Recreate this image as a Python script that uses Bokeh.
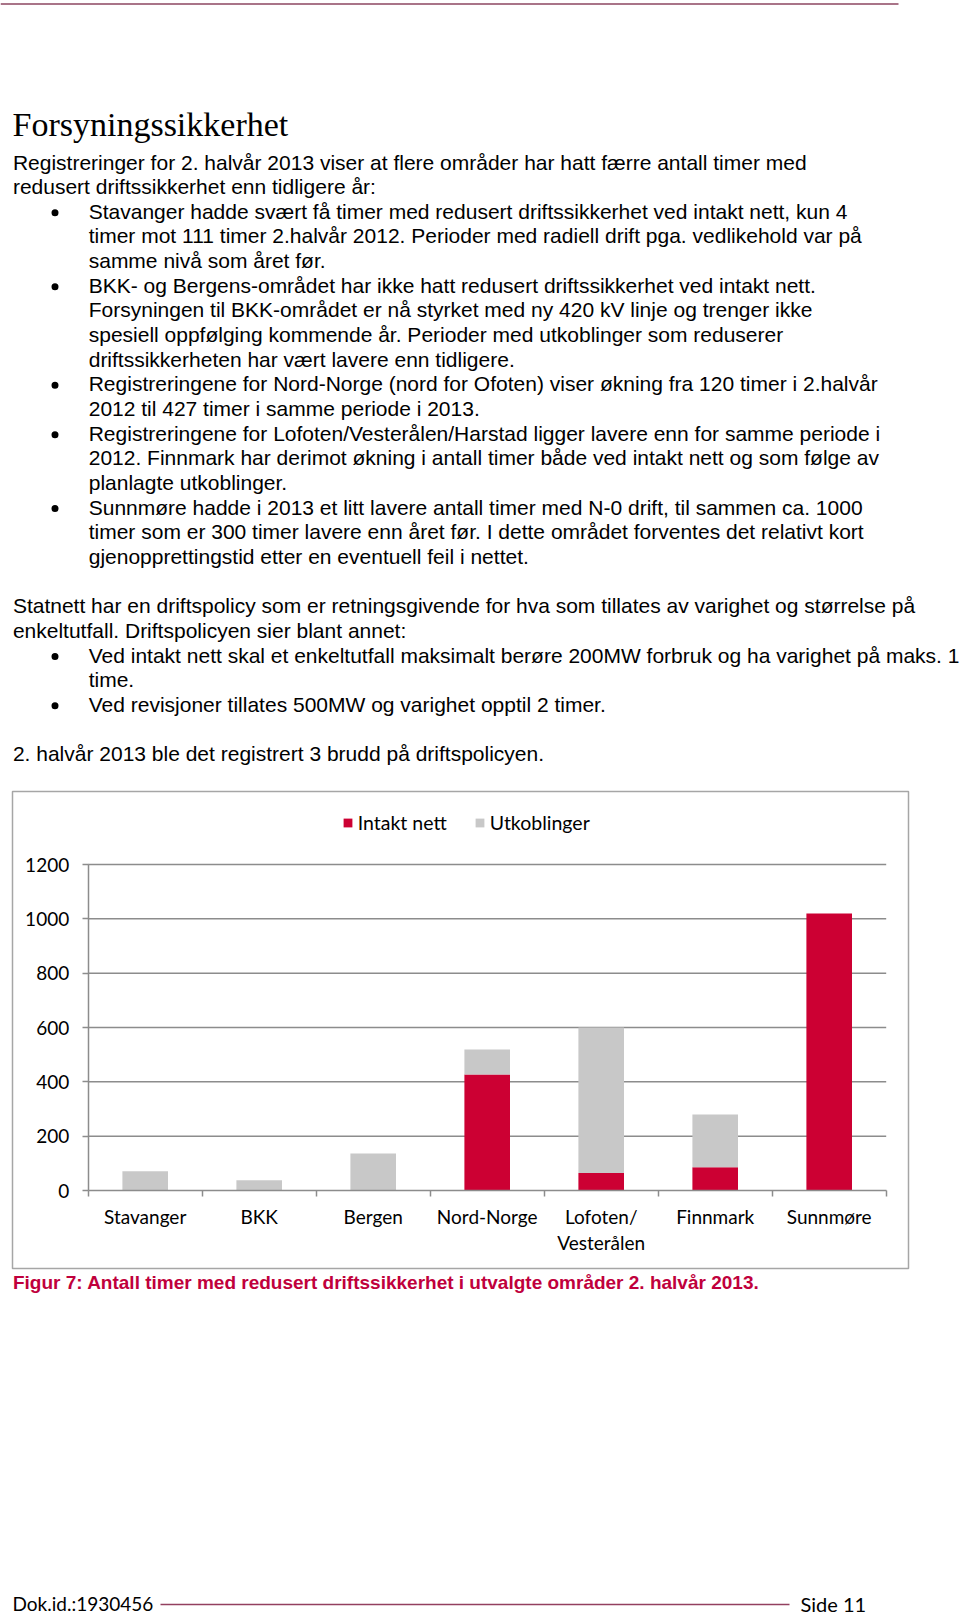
from bokeh.plotting import figure
from bokeh.layouts import column
from bokeh.models import (ColumnDataSource, Range1d, LinearAxis, FixedTicker,
                          Legend, LegendItem)
from bokeh.core.properties import value
from bokeh.embed import file_html
from bokeh.resources import INLINE

# ---------------- data ----------------
CATEGORIES = ["Stavanger", "BKK", "Bergen", "Nord-Norge", "Lofoten/\nVesterålen",
              "Finnmark", "Sunnmøre"]
INTAKT_NETT = [0, 0, 0, 427, 64, 86, 1020]
UTKOBLINGER = [71, 38, 136, 92, 536, 194, 0]
SERIES = ["Intakt nett", "Utkoblinger"]
Y_TICKS = [0, 200, 400, 600, 800, 1000, 1200]

TITLE = "Forsyningssikkerhet"
BODY = [
    ("p", "Registreringer for 2. halvår 2013 viser at flere områder har hatt færre antall timer med"),
    ("p", "redusert driftssikkerhet enn tidligere år:"),
    ("b", "Stavanger hadde svært få timer med redusert driftssikkerhet ved intakt nett, kun 4"),
    ("c", "timer mot 111 timer 2.halvår 2012. Perioder med radiell drift pga. vedlikehold var på"),
    ("c", "samme nivå som året før."),
    ("b", "BKK- og Bergens-området har ikke hatt redusert driftssikkerhet ved intakt nett."),
    ("c", "Forsyningen til BKK-området er nå styrket med ny 420 kV linje og trenger ikke"),
    ("c", "spesiell oppfølging kommende år. Perioder med utkoblinger som reduserer"),
    ("c", "driftssikkerheten har vært lavere enn tidligere."),
    ("b", "Registreringene for Nord-Norge (nord for Ofoten) viser økning fra 120 timer i 2.halvår"),
    ("c", "2012 til 427 timer i samme periode i 2013."),
    ("b", "Registreringene for Lofoten/Vesterålen/Harstad ligger lavere enn for samme periode i"),
    ("c", "2012. Finnmark har derimot økning i antall timer både ved intakt nett og som følge av"),
    ("c", "planlagte utkoblinger."),
    ("b", "Sunnmøre hadde i 2013 et litt lavere antall timer med N-0 drift, til sammen ca. 1000"),
    ("c", "timer som er 300 timer lavere enn året før. I dette området forventes det relativt kort"),
    ("c", "gjenopprettingstid etter en eventuell feil i nettet."),
    (None, ""),
    ("p", "Statnett har en driftspolicy som er retningsgivende for hva som tillates av varighet og størrelse på"),
    ("p", "enkeltutfall. Driftspolicyen sier blant annet:"),
    ("b", "Ved intakt nett skal et enkeltutfall maksimalt berøre 200MW forbruk og ha varighet på maks. 1"),
    ("c", "time."),
    ("b", "Ved revisjoner tillates 500MW og varighet opptil 2 timer."),
    (None, ""),
    ("p", "2. halvår 2013 ble det registrert 3 brudd på driftspolicyen."),
]
CAPTION = "Figur 7: Antall timer med redusert driftssikkerhet i utvalgte områder 2. halvår 2013."
FOOT_LEFT = "Dok.id.:1930456"
FOOT_RIGHT = "Side 11"

# ---------------- styles ----------------
RED = "#cc0033"
GRAY = "#c8c8c8"
AXIS_GRAY = "#8c8c8c"
BOX_GRAY = "#a6a6a6"
MAUVE = "#a97488"
CAPTION_RED = "#c0003c"
CHART_FONT = "Lato"
BODY_FONT = "Liberation Sans"

# page layout (the Bokeh page has no body margin: figures start at 0,0)
PAGE_W = 960
TOP_H, CHART_H, BOT_H = 784, 488, 344
TOP_Y0 = 0
CHART_Y0 = TOP_Y0 + TOP_H
BOT_Y0 = CHART_Y0 + CHART_H


def page_fig(y0, h):
    return figure(width=PAGE_W, height=h, x_range=Range1d(0, PAGE_W),
                  y_range=Range1d(y0 + h, y0), x_axis_type=None, y_axis_type=None,
                  toolbar_location=None, output_backend="svg", min_border=0,
                  outline_line_color=None, background_fill_color="white",
                  border_fill_color="white", frame_align=False)


# ---------------- top text block ----------------
top = page_fig(TOP_Y0, TOP_H)
top.segment(x0=[0], x1=[898], y0=[3.5], y1=[3.5], line_color=MAUVE, line_width=2)
top.text(x=[12], y=[123.5], text=[TITLE], text_font=value("Liberation Serif"),
         text_font_size="34px", text_color="black", text_baseline="middle")

BODY_X, INDENT_X, BULLET_X = 12.4, 88.2, 54.5
LINE0, STEP = 161.5, 24.65
tx, ty, tt, bx, by = [], [], [], [], []
for i, (kind, txt) in enumerate(BODY):
    if kind is None:
        continue
    cy = LINE0 + STEP * i
    tx.append(BODY_X if kind == "p" else INDENT_X)
    ty.append(cy)
    tt.append(txt)
    if kind == "b":
        bx.append(BULLET_X)
        by.append(cy + 1.5)
top.text(x=tx, y=ty, text=tt, text_font=value(BODY_FONT), text_font_size="21px",
         text_color="black", text_baseline="middle")
top.scatter(x=bx, y=by, size=7, marker="circle", fill_color="black", line_color=None)

# ---------------- chart ----------------
FRAME_L, FRAME_R = 12, 908          # page px
FRAME_T, FRAME_B = CHART_Y0 + 7, CHART_Y0 + CHART_H - 4
ORIG_X, ORIG_Y = 87.7, 1190.0       # page px of axes origin
CAT_STEP = 114.0                    # px per category
PX_PER_UNIT = (1190.0 - 864.0) / 1200.0

ncat = len(CATEGORIES)
xs = -(ORIG_X - FRAME_L) / CAT_STEP
xe = (FRAME_R - ORIG_X) / CAT_STEP
ys = -(FRAME_B - ORIG_Y) / PX_PER_UNIT
ye = (ORIG_Y - FRAME_T) / PX_PER_UNIT

p = figure(width=PAGE_W, height=CHART_H, x_range=Range1d(xs, xe), y_range=Range1d(ys, ye),
           x_axis_type=None, y_axis_type=None, toolbar_location=None, output_backend="svg",
           min_border_left=FRAME_L, min_border_right=PAGE_W - FRAME_R,
           min_border_top=FRAME_T - CHART_Y0, min_border_bottom=CHART_Y0 + CHART_H - FRAME_B,
           outline_line_color=BOX_GRAY, outline_line_width=1.5, frame_align=False,
           background_fill_color="white", border_fill_color="white")

centers = [i + 0.5 for i in range(ncat)]
src = ColumnDataSource(dict(x=centers, intakt=INTAKT_NETT, utk=UTKOBLINGER))

grid_y = Y_TICKS[1:]
p.segment(x0=[0] * len(grid_y), x1=[ncat] * len(grid_y), y0=grid_y, y1=grid_y,
          line_color=AXIS_GRAY, line_width=1.5)

rs = p.vbar_stack(["intakt", "utk"], x="x", width=0.4, source=src,
                  fill_color=[RED, GRAY], line_color=None)

yaxis = LinearAxis(fixed_location=0, ticker=FixedTicker(ticks=Y_TICKS), bounds=(0, Y_TICKS[-1]),
                   axis_line_color=AXIS_GRAY, axis_line_width=1.5,
                   major_tick_line_color=AXIS_GRAY, major_tick_line_width=1.5,
                   major_tick_in=0, major_tick_out=6, minor_tick_line_color=None,
                   major_label_standoff=13, major_label_text_font=CHART_FONT,
                   major_label_text_font_size="19px", major_label_text_color="black")
p.add_layout(yaxis, "left")

xticks = LinearAxis(fixed_location=0, ticker=FixedTicker(ticks=list(range(ncat + 1))),
                    bounds=(0, ncat), axis_line_color=AXIS_GRAY, axis_line_width=1.5,
                    major_tick_line_color=AXIS_GRAY, major_tick_line_width=1.5,
                    major_tick_in=0, major_tick_out=6, minor_tick_line_color=None,
                    major_label_overrides={i: "" for i in range(ncat + 1)})
p.add_layout(xticks, "below")

xlabels = LinearAxis(fixed_location=0, ticker=FixedTicker(ticks=centers),
                     axis_line_color=None, major_tick_line_color=None, minor_tick_line_color=None,
                     major_tick_in=0, major_tick_out=6, major_label_standoff=8,
                     major_label_overrides={c: name for c, name in zip(centers, CATEGORIES)},
                     major_label_text_font=CHART_FONT, major_label_text_font_size="19px",
                     major_label_text_color="black", major_label_text_line_height=1.15)
p.add_layout(xlabels, "below")

legend = Legend(items=[LegendItem(label=SERIES[0], renderers=[rs[0]]),
                       LegendItem(label=SERIES[1], renderers=[rs[1]])],
                orientation="horizontal", location=(341.7 - FRAME_L, 434.5),
                glyph_width=11, glyph_height=11, label_standoff=5, spacing=27,
                padding=0, margin=0, border_line_color=None, background_fill_alpha=0,
                label_text_font=CHART_FONT, label_text_font_size="19.5px",
                label_text_color="black")
p.add_layout(legend)

# ---------------- bottom ----------------
bot = page_fig(BOT_Y0, BOT_H)
bot.text(x=[12.4], y=[1282], text=[CAPTION], text_font=value(BODY_FONT), text_font_size="19px",
         text_font_style="bold", text_color=CAPTION_RED, text_baseline="middle")
bot.segment(x0=[160], x1=[789], y0=[1604], y1=[1604], line_color="#93405f", line_width=1.5)
bot.text(x=[12], y=[1603], text=[FOOT_LEFT], text_font=value(CHART_FONT), text_font_size="19px",
         text_color="black", text_baseline="middle")
bot.text(x=[800], y=[1603], text=[FOOT_RIGHT], text_font=value(CHART_FONT), text_font_size="20px",
         text_color="black", text_baseline="middle")

layout = column(top, p, bot, spacing=0)
open("out.html", "w").write(file_html(layout, INLINE))
